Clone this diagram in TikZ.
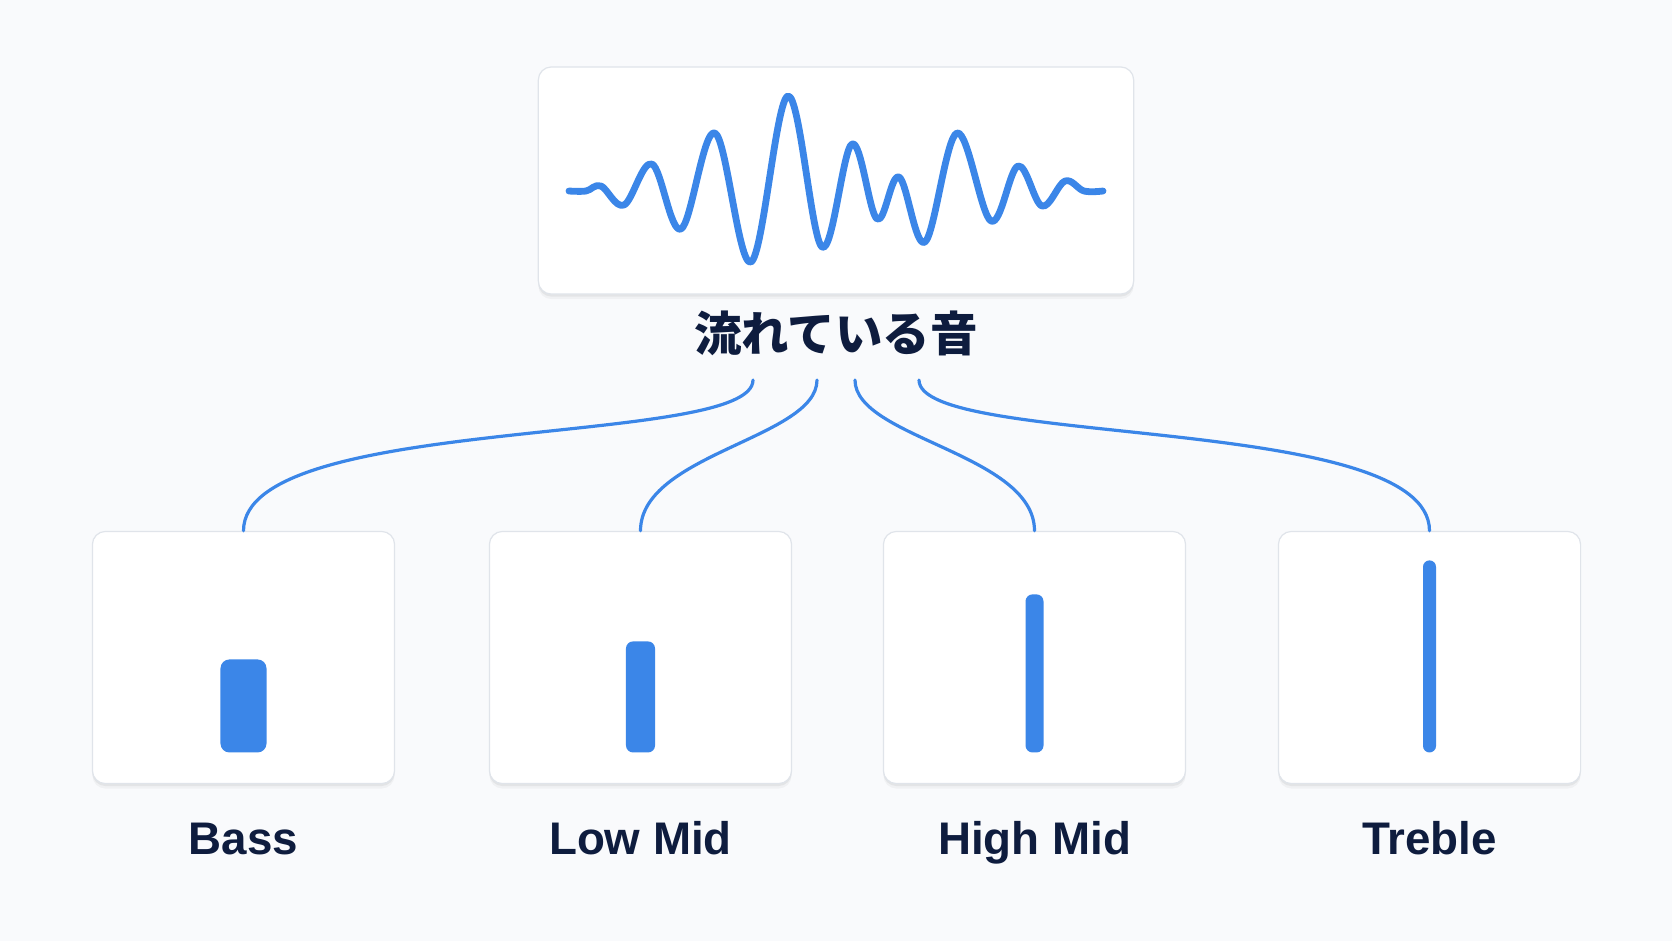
\documentclass[tikz,border=0pt]{standalone}
\usepackage{fontspec}
\setmainfont{Liberation Sans}
\newfontfamily\jpfont{Noto Sans CJK JP}
\usetikzlibrary{calc, positioning, shadows}

\definecolor{wavebl}{RGB}{59,134,232}
\definecolor{inknavy}{RGB}{14,28,62}
\definecolor{panelln}{RGB}{224,228,234}
\definecolor{pagebg}{RGB}{249,250,252}

\tikzset{
  panel/.style={draw=panelln, line width=0.012cm, fill=white, rounded corners=0.13cm,
    drop shadow={shadow xshift=0cm, shadow yshift=-0.05cm, opacity=0.035, fill=black},
    drop shadow={shadow xshift=0cm, shadow yshift=-0.025cm, opacity=0.05, fill=black}},
  bar/.style={fill=wavebl, inner sep=0pt, anchor=south},
  wave/.style={wavebl, line width=0.068cm, line cap=round, line join=round},
  link/.style={wavebl, line width=0.032cm, line cap=round},
  heading/.style={text=inknavy, font=\jpfont\fontsize{13.5pt}{16pt}\selectfont\bfseries, anchor=base},
  bandlabel/.style={text=inknavy, font=\fontsize{13pt}{15pt}\selectfont\bfseries, anchor=base},
}

\begin{document}
\begin{tikzpicture}[x=0.01cm, y=0.01cm]
  \useasboundingbox (0,0) rectangle (1672,941);
  \fill[pagebg] (0,0) rectangle (1672,941);

  % Incoming sound
  \node[panel, minimum width=5.95cm, minimum height=2.27cm] (sound) at (836,760.5) {};
  \draw[wave] plot[smooth, tension=0.6] coordinates {
    (569,750) (586,750) (601,755) (624,736) (652,777) (681,712) (715,808)
    (751,679) (788,845) (822,694) (852,797) (877,722) (899,764) (925,699)
    (957,808) (991,720) (1018,775) (1042,735) (1065,760) (1084,750) (1103,750)};
  \node[heading] (heard) at (836,590) {流れている音};

  % Frequency bands
  \foreach \cx/\nm/\txt/\bw/\bh/\br in {
      243.5/bass/Bass/0.46cm/0.93cm/0.09cm,
      640.5/lowmid/Low Mid/0.29cm/1.11cm/0.07cm,
      1034.5/highmid/High Mid/0.18cm/1.58cm/0.07cm,
      1429.5/treble/Treble/0.13cm/1.92cm/0.065cm} {
    \node[panel, minimum width=3.02cm, minimum height=2.52cm] (\nm) at (\cx,283.5) {};
    \node[bar, minimum width=\bw, minimum height=\bh, rounded corners=\br]
      (\nm-bar) at ($(\nm.south)+(0,31)$) {};
    \node[bandlabel] (\nm-lbl) at ($(\nm.south)+(0,-70)$) {\txt};
  }

  % Split lines
  \coordinate (s1) at ($(heard.base)+(-83,-29)$);
  \coordinate (s2) at ($(heard.base)+(-19,-29)$);
  \coordinate (s3) at ($(heard.base)+(19,-29)$);
  \coordinate (s4) at ($(heard.base)+(83,-29)$);
  \draw[link] (s1) to[out=-90, in=90, out distance=0.68cm, in distance=1.18cm] (bass.north);
  \draw[link] (s2) to[out=-90, in=90, out distance=0.58cm, in distance=0.77cm] (lowmid.north);
  \draw[link] (s3) to[out=-90, in=90, out distance=0.58cm, in distance=0.77cm] (highmid.north);
  \draw[link] (s4) to[out=-90, in=90, out distance=0.68cm, in distance=1.18cm] (treble.north);
\end{tikzpicture}
\end{document}
